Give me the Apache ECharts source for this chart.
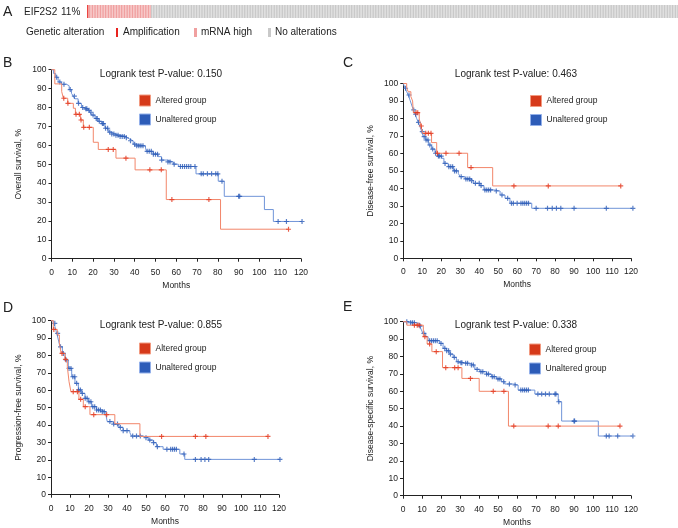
<!DOCTYPE html>
<html>
<head>
<meta charset="utf-8">
<script src="https://cdn.jsdelivr.net/npm/echarts@6/dist/echarts.min.js"></script>
<style>
html,body{margin:0;padding:0;background:#fff;}
#chart{width:678px;height:528px;}
</style>
</head>
<body>
<div id="chart"></div>
<script>
// ---------------- DATA ----------------
// Oncoprint (panel A)
const geneName = 'EIF2S2';
const alteredPct = '11%';
const sampleStatus = ['Amplification', 'mRNA high', 'No alterations'];
const sampleCounts = [1, 39, 330];

// Month axis ticks / survival ticks
const monthTicks = [0, 10, 20, 30, 40, 50, 60, 70, 80, 90, 100, 110, 120];
const survTicks = [0, 10, 20, 30, 40, 50, 60, 70, 80, 90, 100];

// B: Overall survival
const osPValue = '0.150';
const osAltTime = [0, 1.6, 4.9, 5.7, 7.8, 10.5, 11.5, 14, 15.3, 20.1, 22.5, 31, 40.2, 55.2, 81.3, 114];
const osAltSurv = [100, 92.5, 88.4, 84.9, 82.2, 79.6, 76.4, 73.4, 69.5, 61.6, 57.8, 53.2, 47, 31.3, 15.6, 15.6];
const osAltCens = [5.9, 7.9, 11.8, 13.4, 14.2, 15.5, 18.2, 27.3, 29.7, 35.8, 47.3, 52.8, 57.9, 75.7, 114];
const osUnaltTime = [0, 1, 2, 3.2, 4.8, 7.2, 8.5, 9.6, 10.5, 11.2, 12.8, 14.4, 16, 17.6, 18.5, 19.3, 20.9, 22.5, 24, 25.7, 27.3, 28.9, 30.5, 32.9, 35.3, 36.5, 37.7, 39.3, 40.9, 45.2, 45.7, 48.9, 51.3, 52.9, 55.5, 58.6, 61, 69.5, 80.2, 83.1, 102.4, 106.7, 120.5];
const osUnaltSurv = [100, 98, 96, 93.5, 92.3, 91.5, 89.5, 87.5, 86, 84.6, 82.2, 80, 79.3, 78.5, 77.5, 76, 74.2, 72.7, 71.5, 69, 67, 66, 65.3, 64.7, 64, 63.2, 62.4, 60.6, 59.7, 58.5, 56.8, 55.3, 54, 52.2, 51.2, 50, 48.8, 44.9, 41, 33, 26, 19.7, 19.7];
const osUnaltCens = [2.5, 4, 6, 9, 11, 13, 15, 16.5, 17, 18, 19, 20, 21.5, 22, 23, 24.5, 25, 26, 27, 28, 29, 30, 31, 32, 33, 34, 35, 36, 38, 40, 41, 42, 43, 44, 46, 47, 48, 49, 50, 51, 53, 56, 57, 59, 62, 63, 64, 65, 66, 67, 69, 72, 73, 75, 77, 79, 80, 82, 90, 90.5, 109, 113, 120.5];

// C: Disease-free survival
const dfsPValue = '0.463';
const dfsAltTime = [0, 1.8, 2.6, 4, 4.9, 5.3, 8.4, 9.3, 10.2, 14.9, 17.6, 33.9, 47.1, 114.6];
const dfsAltSurv = [100, 97.3, 95.3, 92.5, 90, 83.3, 79.7, 75.7, 71.5, 66.2, 60.1, 51.9, 41.4, 41.4];
const dfsAltCens = [6.7, 7.6, 9.5, 11.8, 13.2, 14.6, 18, 22.5, 29.4, 35.7, 58.3, 76.4, 114.6];
const dfsUnaltTime = [0, 0.9, 1.8, 2.6, 3.5, 4.4, 5.3, 6.2, 7, 7.9, 8.8, 9.7, 10.5, 11.8, 13.2, 14.9, 16.7, 18.1, 20.2, 21.4, 23.7, 26.4, 29, 29.9, 32.5, 35.7, 36.9, 40.4, 42.5, 47.8, 51, 53.6, 56.2, 67.7, 121];
const dfsUnaltSurv = [100, 97.3, 95.3, 93.4, 90.6, 87.7, 84.9, 82.4, 80.1, 77.8, 75.3, 72.5, 69.6, 67.7, 64.8, 62.5, 60.1, 58.5, 57.2, 54.3, 52.4, 50, 48.6, 46.7, 45.4, 44.4, 42.9, 41.6, 39.1, 38.5, 36.2, 34.3, 31.5, 28.6, 28.6];
const dfsUnaltCens = [1.2, 3, 5.5, 6.5, 8, 10, 11, 12, 13, 14, 15.5, 17, 18.5, 19, 20, 22, 24, 25, 26, 27, 28, 30.5, 33, 34, 35, 36, 38, 40, 41, 43, 44, 45, 46, 49, 52, 55, 57, 58, 60, 62, 63, 64, 65, 66, 70, 76, 78.5, 80.7, 83, 90, 107, 121];

// D: Progression-free survival
const pfsPValue = '0.855';
const pfsAltTime = [0, 1.2, 3.3, 4.4, 5.3, 7.4, 8.6, 9.5, 10.5, 14.7, 17, 20.5, 33.6, 46.8, 114.2];
const pfsAltSurv = [100, 95, 91.8, 87.4, 81.2, 77.8, 73.6, 64.9, 59.2, 54.8, 50.6, 46, 40.8, 33.5, 33.5];
const pfsAltCens = [1.5, 5.8, 7.6, 11.7, 13.9, 15.6, 18, 22.5, 29.3, 58.2, 76, 81.5, 114.2];
const pfsUnaltTime = [0, 1.2, 2.1, 3, 3.9, 4.7, 6, 7.4, 9.1, 10.9, 12.6, 14.4, 16.1, 17.9, 19.6, 21.4, 24, 26.6, 28.9, 29.6, 32.8, 35.4, 35.9, 38, 41.5, 42.4, 48.5, 51.2, 53.8, 55.5, 59, 67.8, 70.4, 120.5];
const pfsUnaltSurv = [100, 98.5, 96.6, 92.7, 88.9, 85, 81.2, 77.4, 72.6, 67.8, 64, 60.2, 58.2, 55.4, 53.4, 50.6, 48.7, 47.7, 45.8, 42, 40.6, 40, 38.7, 36.8, 35.6, 33.7, 32.8, 31.4, 29.9, 27.6, 26.1, 23.4, 20.3, 20.3];
const pfsUnaltCens = [2, 3.5, 5, 6.5, 8, 9.5, 10.5, 11.5, 12.5, 13.5, 14.5, 15.5, 16.5, 18, 19, 20, 21, 22, 23, 24, 25, 26, 27, 28, 31, 33, 35, 36.5, 38, 40, 43, 45, 47, 50, 52, 54, 56, 61, 63, 64, 65, 66, 70, 76, 79, 81, 83, 107, 120.5];

// E: Disease-specific survival
const dssPValue = '0.338';
const dssAltTime = [0, 2, 10.7, 12.7, 15.2, 20.8, 31, 40.1, 55.5, 114.2];
const dssAltSurv = [100, 98, 91.4, 87.2, 82.8, 73.6, 67.4, 60, 40, 40];
const dssAltCens = [6, 7.5, 8.5, 11.5, 14, 17.5, 22.5, 27.2, 29, 35.5, 47.5, 53.1, 58.3, 76.4, 81.7, 114.2];
const dssUnaltTime = [0, 3.5, 7, 8.8, 9.7, 10.5, 12, 13.2, 19.3, 21.1, 22.8, 24.6, 26.4, 28.1, 29.9, 32.5, 35.1, 37.8, 40.4, 43.9, 46.6, 49.2, 51.8, 53.6, 58, 60.6, 69.4, 81.7, 83.5, 102.8, 121];
const dssUnaltSurv = [100, 99.4, 99, 97.5, 95.2, 93.3, 91.4, 89.1, 87.5, 84.7, 83.3, 81.4, 79.5, 77, 76.4, 76.1, 75.1, 72.6, 71.3, 69.9, 68.4, 67.1, 65.5, 64.2, 63.6, 60.7, 58.4, 54, 42.9, 34.3, 34.3];
const dssUnaltCens = [2, 4, 5, 6, 9, 11, 14, 15, 16, 17, 18, 20, 22, 23, 24, 25, 27, 29, 30.5, 31, 33, 34, 36, 37, 39, 41, 42, 44, 45, 47, 48, 50, 51, 53, 56, 59, 62, 63, 64, 65, 66, 71, 73, 75, 77, 80, 80.5, 82, 90, 90.3, 107, 108.5, 113, 121];

// ---------------- STYLE ----------------
const FONT = '"Liberation Sans", Arial, Helvetica, sans-serif';
const TXT = '#222';
const ALT_LINE = '#f2866a', ALT_MARK = '#e2341c', ALT_ICON = '#d63a1a';
const UNALT_LINE = '#7094d8', UNALT_MARK = '#2d5cb8', UNALT_ICON = '#2d5cb8';
const STATUS_COLOR = {'Amplification': '#e8231f', 'mRNA high': '#f0a0a0', 'No alterations': '#c9c9c9'};
const PLUS = 'path://M-0.7,-3H0.7V-0.7H3V0.7H0.7V3H-0.7V0.7H-3V-0.7H-0.7Z';

const panels = [
  {label: 'B', yName: 'Overall survival, %', p: osPValue, at: osAltTime, as: osAltSurv, ac: osAltCens, ut: osUnaltTime, us: osUnaltSurv, uc: osUnaltCens,
   grid: {left: 51.5, top: 69.7, width: 249.5, height: 189}, letter: [3, 63], ptext: [161, 74], legend: [139, 94.5]},
  {label: 'C', yName: 'Disease-free survival, %', p: dfsPValue, at: dfsAltTime, as: dfsAltSurv, ac: dfsAltCens, ut: dfsUnaltTime, us: dfsUnaltSurv, uc: dfsUnaltCens,
   grid: {left: 403.3, top: 83.5, width: 227.7, height: 174.8}, letter: [343, 63], ptext: [516, 74], legend: [530, 95]},
  {label: 'D', yName: 'Progression-free survival, %', p: pfsPValue, at: pfsAltTime, as: pfsAltSurv, ac: pfsAltCens, ut: pfsUnaltTime, us: pfsUnaltSurv, uc: pfsUnaltCens,
   grid: {left: 51, top: 320.7, width: 228, height: 174}, letter: [3, 308], ptext: [161, 325], legend: [139, 342.5]},
  {label: 'E', yName: 'Disease-specific survival, %', p: dssPValue, at: dssAltTime, as: dssAltSurv, ac: dssAltCens, ut: dssUnaltTime, us: dssUnaltSurv, uc: dssUnaltCens,
   grid: {left: 403, top: 321.7, width: 228, height: 174}, letter: [343, 307], ptext: [516, 325], legend: [529, 343.5]}
];

function stepAt(ts, ss, t) {
  let v = ss[0];
  for (let i = 0; i < ts.length; i++) if (ts[i] <= t) v = ss[i];
  return v;
}
function pairs(ts, ss) { return ts.map((t, i) => [t, ss[i]]); }
function censPairs(ts, ss, cs) { return cs.map(c => [c, stepAt(ts, ss, c)]); }

function txt(x, y, text, size, align) {
  return {type: 'text', x: x, y: y, silent: true,
    style: {text: text, fontSize: size, fontFamily: FONT, fill: TXT,
      textAlign: align || 'left', textVerticalAlign: 'middle', align: align || 'left', verticalAlign: 'middle'}};
}

const grids = [], xAxes = [], yAxes = [], series = [], legends = [], graphics = [];

panels.forEach((pn, i) => {
  grids.push(Object.assign({containLabel: false}, pn.grid));
  xAxes.push({
    type: 'value', gridIndex: i, min: monthTicks[0], max: monthTicks[monthTicks.length - 1], interval: monthTicks[1] - monthTicks[0],
    name: 'Months', nameLocation: 'middle', nameGap: 22,
    nameTextStyle: {fontSize: 8.5, color: TXT, fontFamily: FONT},
    axisLine: {show: true, onZero: false, lineStyle: {color: TXT, width: 1}},
    axisTick: {show: true, length: 3, lineStyle: {color: TXT, width: 1}},
    axisLabel: {fontSize: 8.5, color: TXT, margin: 9, fontFamily: FONT},
    splitLine: {show: false}
  });
  yAxes.push({
    type: 'value', gridIndex: i, min: survTicks[0], max: survTicks[survTicks.length - 1], interval: survTicks[1] - survTicks[0],
    name: pn.yName, nameLocation: 'middle', nameGap: 28, nameRotate: 90,
    nameTextStyle: {fontSize: 8.5, color: TXT, fontFamily: FONT},
    axisLine: {show: true, onZero: false, lineStyle: {color: TXT, width: 1}},
    axisTick: {show: true, length: 3, lineStyle: {color: TXT, width: 1}},
    axisLabel: {fontSize: 8.5, color: TXT, margin: 5, fontFamily: FONT},
    splitLine: {show: false}
  });
  series.push({
    type: 'line', name: 'Unaltered group', xAxisIndex: i, yAxisIndex: i, step: 'end',
    data: pairs(pn.ut, pn.us), showSymbol: false, symbol: 'none', clip: false, silent: true,
    lineStyle: {width: 1, color: UNALT_LINE}, itemStyle: {color: UNALT_ICON}, z: 2
  });
  series.push({
    type: 'scatter', name: 'Unaltered censored', xAxisIndex: i, yAxisIndex: i,
    data: censPairs(pn.ut, pn.us, pn.uc), symbol: PLUS, symbolSize: 5, clip: false, silent: true,
    itemStyle: {color: UNALT_MARK}, z: 3
  });
  series.push({
    type: 'line', name: 'Altered group', xAxisIndex: i, yAxisIndex: i, step: 'end',
    data: pairs(pn.at, pn.as), showSymbol: false, symbol: 'none', clip: false, silent: true,
    lineStyle: {width: 1, color: ALT_LINE}, itemStyle: {color: ALT_ICON}, z: 4
  });
  series.push({
    type: 'scatter', name: 'Altered censored', xAxisIndex: i, yAxisIndex: i,
    data: censPairs(pn.at, pn.as, pn.ac), symbol: PLUS, symbolSize: 5, clip: false, silent: true,
    itemStyle: {color: ALT_MARK}, z: 5
  });
  legends.push({
    orient: 'vertical', left: pn.legend[0], top: pn.legend[1], padding: 0,
    itemWidth: 11, itemHeight: 11, itemGap: 7, icon: 'rect', selectedMode: false,
    textStyle: {fontSize: 8.5, color: TXT, fontFamily: FONT},
    data: [
      {name: 'Altered group', itemStyle: {color: ALT_ICON, borderColor: '#f29a80', borderWidth: 1}},
      {name: 'Unaltered group', itemStyle: {color: UNALT_ICON, borderColor: '#93b0ea', borderWidth: 1}}
    ]
  });
  graphics.push(txt(pn.letter[0], pn.letter[1], pn.label, 14, 'left'));
  graphics.push(txt(pn.ptext[0], pn.ptext[1], 'Logrank test P-value: ' + pn.p, 10, 'center'));
});

// Oncoprint grid (panel A)
const sampleIds = [], sampleBars = [];
sampleStatus.forEach((st, k) => {
  for (let j = 0; j < sampleCounts[k]; j++) {
    sampleIds.push(st + '_' + j);
    sampleBars.push({value: 1, itemStyle: {color: STATUS_COLOR[st]}});
  }
});
const oi = panels.length;
grids.push({left: 87, top: 5, width: 591, height: 13, containLabel: false});
xAxes.push({type: 'category', gridIndex: oi, data: sampleIds, show: false});
yAxes.push({type: 'value', gridIndex: oi, min: 0, max: 1, show: false});
series.push({type: 'bar', name: 'samples', xAxisIndex: oi, yAxisIndex: oi, data: sampleBars, barCategoryGap: '20%', silent: true});

graphics.push(txt(3, 12, 'A', 14, 'left'));
graphics.push(txt(24, 12.5, geneName, 10, 'left'));
graphics.push(txt(61, 12.5, alteredPct, 10, 'left'));
graphics.push(txt(26, 32.5, 'Genetic alteration', 10, 'left'));
const legA = [[116, 'Amplification'], [194, 'mRNA high'], [268, 'No alterations']];
legA.forEach(([x, name]) => {
  graphics.push({type: 'rect', silent: true, shape: {x: x, y: 28, width: name === 'Amplification' ? 2 : 3, height: 9}, style: {fill: STATUS_COLOR[name]}});
  graphics.push(txt(x + 7, 32.5, name, 10, 'left'));
});

const chart = echarts.init(document.getElementById('chart'), null, {renderer: 'canvas'});
chart.setOption({
  animation: false,
  backgroundColor: '#fff',
  textStyle: {fontFamily: FONT},
  grid: grids, xAxis: xAxes, yAxis: yAxes,
  legend: legends, series: series, graphic: graphics
});
</script>
</body>
</html>
